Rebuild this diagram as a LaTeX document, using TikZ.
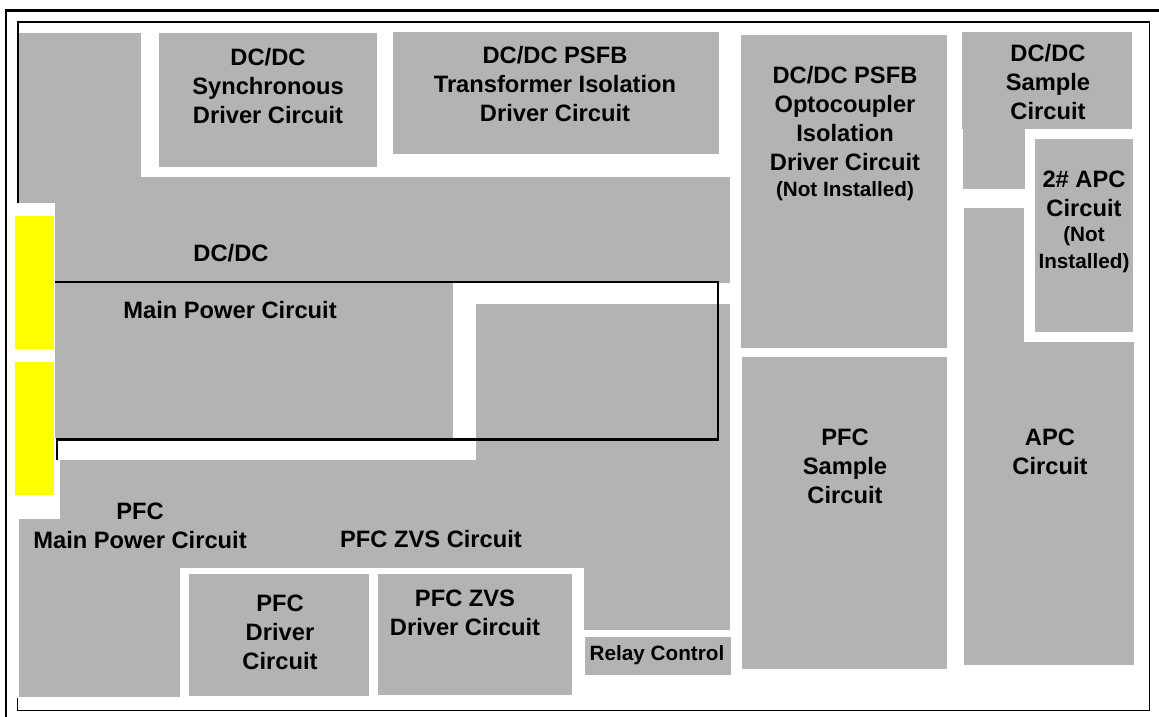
\documentclass[tikz,border=0pt]{standalone}
\usepackage{fontspec}
\setmainfont{Liberation Sans}
\usetikzlibrary{positioning}
\definecolor{boardgray}{RGB}{179,179,179}
\definecolor{padyellow}{RGB}{255,255,0}
\newcommand{\bigtxt}{\fontsize{23.7}{29}\selectfont\bfseries}
\newcommand{\smalltxt}{\fontsize{20.7}{27}\selectfont\bfseries}

\begin{document}
\begin{tikzpicture}[
  x=1pt,y=-1pt,
  blk/.style={fill=boardgray},
  pad/.style={fill=padyellow},
  lab/.style={font=\bigtxt, align=center, inner sep=0pt},
  slab/.style={font=\smalltxt, align=center, inner sep=0pt},
  frame/.style={line width=1.7pt},
  outline/.style={line width=2.3pt}
]
\useasboundingbox (0,0) rectangle (1159,717);

% -------------------------
% Frames
% -------------------------
\draw[line width=2.8pt] (6,717) -- (6,10.5) -- (1159,10.5);
\draw[frame] (18,203) -- (18,22) -- (1149.5,22) -- (1149.5,710.5) -- (17.5,710.5) -- (17.5,698);

% -------------------------
% DC/DC area
% -------------------------
\fill[blk] (19,33) rectangle (141,203);
\fill[blk] (55,177) rectangle (730,283);
\fill[blk] (55,283) rectangle (453,438);
\fill[blk] (159,33) rectangle (377,167);
\fill[blk] (393,32) rectangle (719,154);

% -------------------------
% PFC area
% -------------------------
\fill[blk] (476,304) rectangle (730,568);
\fill[blk] (584,567) rectangle (730,630);
\fill[blk] (60,460) rectangle (730,568);
\fill[blk] (18.5,519) rectangle (180,697);
\fill[blk] (189,574) rectangle (369,696);
\fill[blk] (378,574) rectangle (572,695);
\fill[blk] (585,637) rectangle (731,675);

% -------------------------
% Right column
% -------------------------
\fill[blk] (741,35) rectangle (947,348);
\fill[blk] (742,357) rectangle (947,669);
\fill[blk] (962,32) rectangle (1132,129);
\fill[blk] (963,129) rectangle (1025,189);
\fill[blk] (1035,139) rectangle (1133,332);
\fill[blk] (964,208) rectangle (1024,342);
\fill[blk] (964,342) rectangle (1134,665);

% connector pads
\fill[pad] (15,216) rectangle (54,349);
\fill[pad] (15,362) rectangle (54,495);

% main power outline
\draw[outline] (57,460) -- (57,439.5) -- (718,439.5) -- (718,282) -- (55,282);

% -------------------------
% Labels
% -------------------------
\node[lab] (sync) at (268,86) {DC/DC\\Synchronous\\Driver Circuit};
\node[lab] (xfmr) at (555,84) {DC/DC PSFB\\Transformer Isolation\\Driver Circuit};
\node[lab] (dcdc) at (231,253) {DC/DC};
\node[lab] (mainpwr) at (230,310) {Main Power Circuit};

\node[lab] (opto) at (845,119) {DC/DC PSFB\\Optocoupler\\Isolation\\Driver Circuit};
\node[slab] (opto_ni) at (845,191) {(Not Installed)};
\node[lab] (dcsample) at (1048,82) {DC/DC\\Sample\\Circuit};
\node[lab] (apc2) at (1084,193.5) {2\# APC\\Circuit};
\node[slab] (apc2_ni) at (1084,249.5) {(Not\\Installed)};
\node[lab] (pfcsample) at (845,466) {PFC\\Sample\\Circuit};
\node[lab] (apc) at (1050,451.5) {APC\\Circuit};

\node[lab] (pfcmain) at (140,526) {PFC\\Main Power Circuit};
\node[lab] (pfczvs) at (431,539) {PFC ZVS Circuit};
\node[lab] (pfcdrv) at (280,632) {PFC\\Driver\\Circuit};
\node[lab] (zvsdrv) at (465,612.5) {PFC ZVS\\Driver Circuit};
\node[slab] (relay) at (657,655) {Relay Control};

\end{tikzpicture}
\end{document}
